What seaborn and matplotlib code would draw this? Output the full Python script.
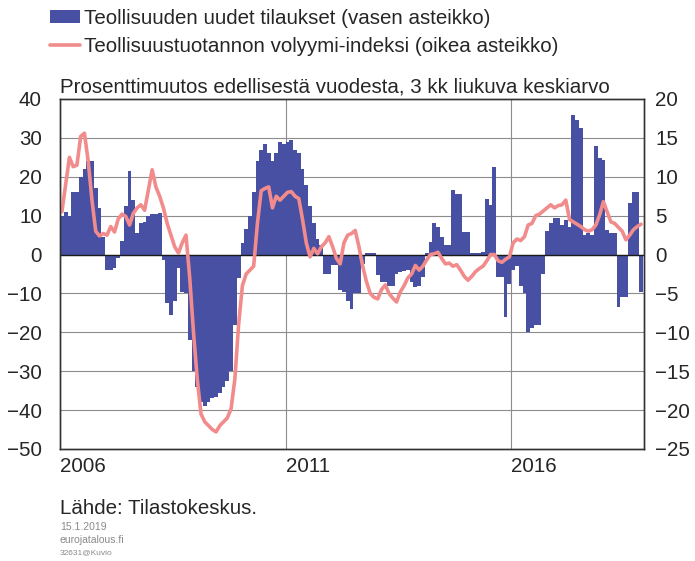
import matplotlib
matplotlib.use("Agg")
from matplotlib import pyplot as plt
from matplotlib.patches import Patch
from matplotlib.lines import Line2D
import numpy as np
import pandas as pd
import seaborn as sns

# monthly data Jan 2006 -> Nov 2018, 3 month moving average, % change y/y
orders = [10, 11, 10, 16, 16, 20, 22, 24, 24, 17, 12, 4.5, -4, -4, -3.5, -1, 3.5, 12.5, 21.5, 14,
          5.5, 8, 8.5, 10, 10.5, 10.5, 10.8, -1.5, -12.5, -15.5, -12, -3.5, -9.5, -10, -22, -30, -34, -38, -39, -38,
          -37, -36.5, -35.5, -34, -32.5, -30, -18, -6, 3, 6.5, 10, 16, 24, 27, 28.5, 26, 24, 26, 29, 28.5,
          29, 29.5, 27, 26, 22, 18, 12.5, 8, 4, 2.5, -5, -5, -2.7, -2.7, -9, -9.5, -12, -14, -10, -10,
          -2.3, 0.5, 0.5, 0.5, -5.3, -7, -7, -8, -8, -5, -4.5, -4.2, -4, -7, -8.3, -8, -5.8, 0.3, 3.3, 8,
          7.1, 4.5, 2.4, 2.4, 16.6, 15.5, 15.5, 5.8, 5.8, 0.3, 0.3, 0.3, 0.7, 14.4, 12.7, 22.6, -5.8, -5.8, -16, -7.5,
          -4, -3, -8, -10, -20, -19, -18, -18, -5, 6, 8, 9.3, 9.3, 7.6, 8.9, 7.2, 36, 34.6, 32.5, 5.1,
          5.5, 5, 27.8, 24.8, 24.3, 6.3, 5.5, 5.5, -13.4, -10.8, -10.8, 13.2, 16.2, 16.2, -9.5]
production = [5.5, 9, 12.5, 11.3, 11.5, 15.2, 15.6, 12, 7, 3, 2.4, 2.7, 2.5, 3.6, 2.9, 4.6, 5.2, 4.9, 3.8, 5.3,
              6, 6.4, 5.7, 8.3, 10.9, 8.7, 7.5, 6, 4, 2.5, 1, 0.2, 1.5, 2.5, -3, -10, -16, -20.5, -21.5, -22,
              -22.5, -22.8, -22, -21.5, -21, -19.8, -16, -9, -4, -2.5, -2, -1.5, 4, 8.2, 8.5, 8.7, 6, 7.5, 7, 7.5,
              8, 8.1, 7.5, 7.2, 4.5, 1.5, -0.3, 0.8, 0.1, 1, 1.5, 2.3, 1, -0.5, -1.2, 1.5, 2.5, 2.7, 3.1, 1,
              -1.5, -3.5, -5, -5.5, -5.7, -4.5, -3.9, -5, -5.6, -6.1, -4.8, -4, -3, -2.5, -1.4, -2, -1.5, -0.7, 0, 0.1,
              0.3, -0.5, -1.2, -1.1, -1.5, -1.3, -2, -2.8, -3.3, -2.8, -2.2, -1.8, -1.5, -0.8, 0, 0, -0.8, -1, -0.6, -0.3,
              1.5, 2, 1.8, 2.3, 3.8, 4, 5, 5.2, 5.6, 6, 6.4, 6, 6.3, 6.4, 7, 4.5, 4.2, 3.9, 3.6, 3.2,
              3, 3.2, 3.8, 5.1, 6.8, 5.5, 4.2, 4, 3.5, 3, 1.9, 2.5, 3.2, 3.6, 3.9]
year_labels = ["2006", "2011", "2016"]

bar_color = "#4750A3"
line_color = "#F28B8B"
fs = 14.8

df = pd.DataFrame({"month": np.arange(len(orders)) + 0.5,
                   "orders": orders,
                   "production": production})

sns.set_style("white")
plt.rcParams["font.family"] = ["Liberation Sans", "DejaVu Sans"]

fig = plt.figure(figsize=(6.95, 5.61), dpi=100)
ax = fig.add_axes([60 / 695, 1 - 449 / 561, 584 / 695, 350 / 561])

sns.barplot(data=df, x="month", y="orders", native_scale=True, width=1,
            color=bar_color, saturation=1, linewidth=0, errorbar=None, ax=ax)
ax.set_ylim(-50, 40)
ax.set_yticks(range(-50, 41, 10))
ax.set_xlim(0, 155.3)
ax.set_xticks([0, 60, 120])
ax.set_xticklabels(year_labels, ha="left")
ax.set_xlabel("")
ax.set_ylabel("")
for v in range(-40, 40, 10):
    ax.axhline(v, color="#8c8c8c", lw=0.8, zorder=0)
ax.axhline(0, color="#1a1a1a", lw=1.0, zorder=3)
for xv in [60, 120]:
    ax.axvline(xv, color="#8c8c8c", lw=0.8, zorder=0)
ax.tick_params(axis="y", length=0, pad=13, labelsize=fs)
ax.tick_params(axis="x", length=0, pad=6, labelsize=fs)
for s in ax.spines.values():
    s.set_color("#333333")
    s.set_linewidth(1.0)

ax2 = ax.twinx()
sns.lineplot(data=df, x="month", y="production", color=line_color, lw=2.6, ax=ax2)
ax2.set_ylim(-25, 20)
ax2.set_yticks(range(-25, 21, 5))
ax2.set_ylabel("")
ax2.tick_params(axis="y", length=0, pad=8, labelsize=fs)
for s in ax2.spines.values():
    s.set_color("#333333")
    s.set_linewidth(1.0)

handles = [Patch(facecolor=bar_color, edgecolor="none"),
           Line2D([], [], color=line_color, lw=2.6)]
fig.legend(handles, ["Teollisuuden uudet tilaukset (vasen asteikko)",
                     "Teollisuustuotannon volyymi-indeksi (oikea asteikko)"],
           loc="upper left", bbox_to_anchor=(50 / 695, 1 - 9 / 561), frameon=False,
           fontsize=fs, handlelength=1.45, handleheight=0.6, handletextpad=0.2,
           labelspacing=0.42, borderaxespad=0, borderpad=0)

fig.text(60 / 695, 1 - 87 / 561, "Prosenttimuutos edellisestä vuodesta, 3 kk liukuva keskiarvo",
         fontsize=fs, va="center", ha="left")
fig.text(60 / 695, 1 - 509 / 561, "Lähde: Tilastokeskus.", fontsize=fs, va="center", ha="left")
fig.text(60 / 695, 1 - 527 / 561, "15.1.2019", fontsize=7.5, color="#8a8a8a", va="center")
fig.text(60 / 695, 1 - 540 / 561, "eurojatalous.fi", fontsize=7.5, color="#8a8a8a", va="center")
fig.text(60 / 695, 1 - 553 / 561, "32631@Kuvio", fontsize=6, color="#8a8a8a", va="center")

fig.savefig("out.png", dpi=100)
